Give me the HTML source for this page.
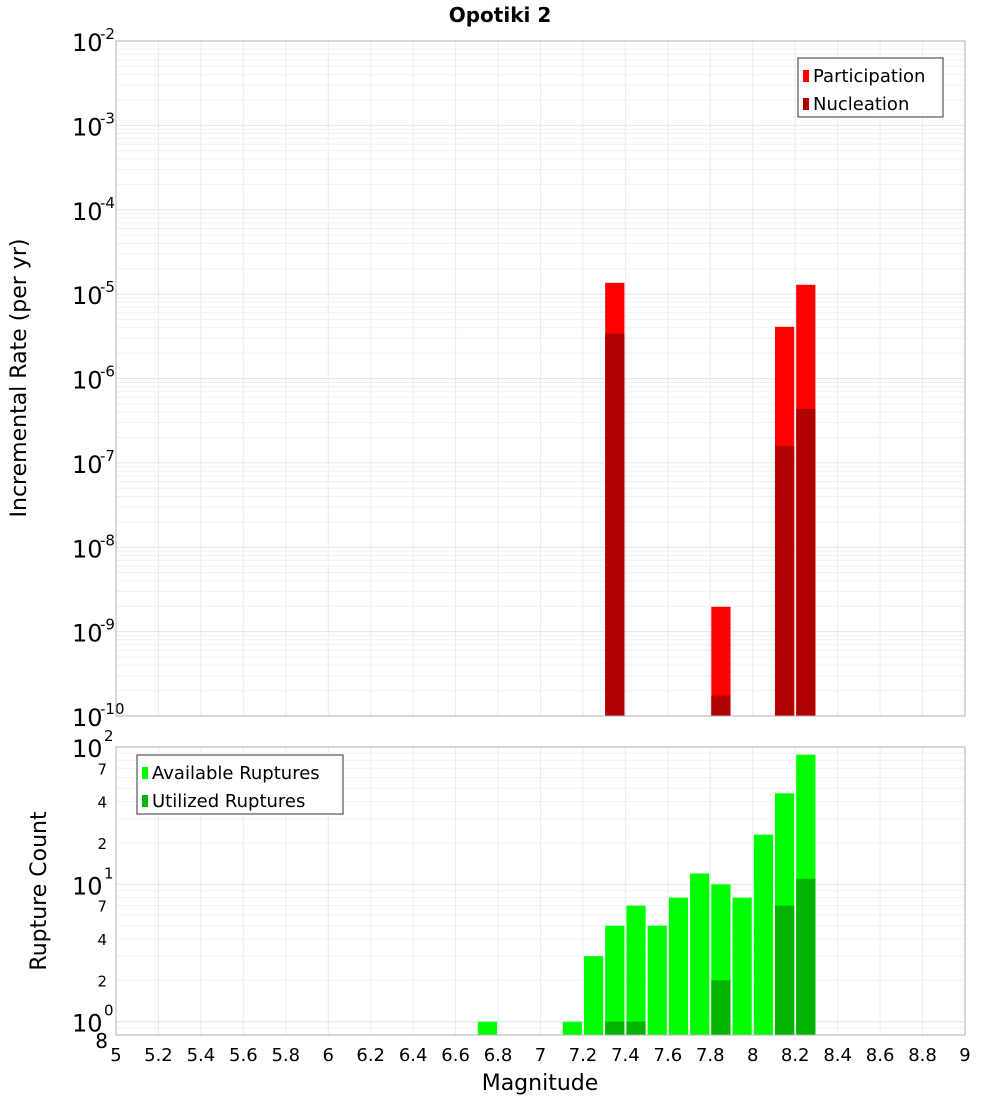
<!DOCTYPE html>
<html><head><meta charset="utf-8"><style>
body{margin:0;background:#fff;font-family:"Liberation Sans","DejaVu Sans",sans-serif}
svg text{font-family:"DejaVu Sans","Liberation Sans",sans-serif}
</style></head><body>
<svg id="c" width="1000" height="1100" xmlns="http://www.w3.org/2000/svg">
<text x="500" y="22" text-anchor="middle" font-size="20" font-weight="bold">Opotiki 2</text>
<text transform="translate(26,378) rotate(-90)" text-anchor="middle" font-size="22">Incremental Rate (per yr)</text>
<text transform="translate(46,891) rotate(-90)" text-anchor="middle" font-size="22">Rupture Count</text>
<text x="540" y="1090" text-anchor="middle" font-size="22">Magnitude</text>
</svg>
<script>
const topMags=[7.35,7.85,8.15,8.25];
const participation=[1.36e-5,1.97e-9,4.1e-6,1.29e-5];
const nucleation=[3.4e-6,1.74e-10,1.58e-7,4.37e-7];
const botMags=[6.75,7.15,7.25,7.35,7.45,7.55,7.65,7.75,7.85,7.95,8.05,8.15,8.25];
const available=[1,1,3,5,7,5,8,12,10,8,23,46,88];
const utilMags=[7.35,7.45,7.85,8.15,8.25];
const utilized=[1,1,2,7,11];
const xTicks=["5","5.2","5.4","5.6","5.8","6","6.2","6.4","6.6","6.8","7","7.2","7.4","7.6","7.8","8","8.2","8.4","8.6","8.8","9"];
const topExps=[-2,-3,-4,-5,-6,-7,-8,-9,-10];

const svg=document.getElementById('c');
const NS='http://www.w3.org/2000/svg';
function mk(tag,a,parent){const e=document.createElementNS(NS,tag);for(const k in a)e.setAttribute(k,a[k]);(parent||svg).appendChild(e);return e;}
const X0=116,X1=965;
const x=m=>X0+(m-5)/4*(X1-X0);
const TY0=41,TY1=716;
const yTop=v=>TY0+(-2-Math.log10(v))/8*(TY1-TY0);
const BY0=747,BY1=1035,BMIN=Math.log10(0.8);
const yBot=v=>BY0+(2-Math.log10(v))/(2-BMIN)*(BY1-BY0);

// grids
for(let i=0;i<xTicks.length;i++){const xv=x(5+i*0.2);
 let g=mk('line',{x1:xv,x2:xv,y1:TY0,y2:TY1,stroke:'#ebebeb'});
 
 g=mk('line',{x1:xv,x2:xv,y1:BY0,y2:BY1,stroke:'#ebebeb'});
 
 const t=mk('text',{x:xv,y:1061,'text-anchor':'middle','font-size':18});t.textContent=xTicks[i];
 
}
for(let e=-10;e<-2;e++)for(let k=1;k<10;k++){const yv=yTop(k*Math.pow(10,e));
 const g=mk('line',{x1:X0,x2:X1,y1:yv,y2:yv,stroke:k==1?'#e4e4e4':'#f0f0f0'});
 }
for(let e=-1;e<2;e++)for(let k=1;k<10;k++){const v=k*Math.pow(10,e);if(v<0.8)continue;const yv=yBot(v);
 const g=mk('line',{x1:X0,x2:X1,y1:yv,y2:yv,stroke:k==1?'#e4e4e4':'#f0f0f0'});
 }
// top labels
topExps.forEach(e=>{const yv=yTop(Math.pow(10,e));
 const t=mk('text',{x:72,y:yv+10,'font-size':24});t.textContent='10';
 
 const s=mk('text',{x:100,y:yv-2,'font-size':15});s.textContent=String(e);
 });
// bottom labels
[[100,'10','2'],[10,'10','1'],[1,'10','0']].forEach(([v,b,p])=>{const yv=yBot(v);
 const t=mk('text',{x:72,y:yv+10,'font-size':24});t.textContent=b;
 
 const s=mk('text',{x:104,y:yv-6,'font-size':15});s.textContent=p;
 });
[2,4,7,20,40,70,0.8].forEach(v=>{const yv=yBot(v);const lab=v==0.8?'8':String(v).charAt(0);
 const t=mk('text',{x:v==0.8?108:107,y:yv+(v==0.8?13:6),'font-size':v==0.8?20:15,'text-anchor':'end'});t.textContent=lab;
 });
// bars
const bw=x(5.1)-x(5)-2;
topMags.forEach((m,i)=>{
 let r=mk('rect',{x:x(m)-bw/2,width:bw,y:yTop(participation[i]),height:TY1-yTop(participation[i]),fill:'#ff0000'});
 
 r=mk('rect',{x:x(m)-bw/2,width:bw,y:yTop(nucleation[i]),height:TY1-yTop(nucleation[i]),fill:'#b00000'});
 });
botMags.forEach((m,i)=>{
 const r=mk('rect',{x:x(m)-bw/2,width:bw,y:yBot(available[i]),height:BY1-yBot(available[i]),fill:'#00ff00'});
 });
utilMags.forEach((m,i)=>{
 const r=mk('rect',{x:x(m)-bw/2,width:bw,y:yBot(utilized[i]),height:BY1-yBot(utilized[i]),fill:'#00b400'});
 });
// frames
let f=mk('rect',{x:X0,y:TY0,width:X1-X0,height:TY1-TY0,fill:'none',stroke:'#b0b0b0'});

f=mk('rect',{x:X0,y:BY0,width:X1-X0,height:BY1-BY0,fill:'none',stroke:'#b0b0b0'});

// legends
function legend(lx,ly,w,items,name){const g=mk('g',{});
 mk('rect',{x:lx,y:ly,width:w,height:59,fill:'#fff',stroke:'#333'},g);
 items.forEach(([c,l],i)=>{mk('rect',{x:lx+5,y:ly+12+i*28,width:6,height:12,fill:c},g);
 const t=mk('text',{x:lx+15,y:ly+24+i*28,'font-size':18},g);t.textContent=l;
 });}
legend(798,58,145,[['#ff0000','Participation'],['#b00000','Nucleation']],'top-legend');
legend(137,755,206,[['#00ff00','Available Ruptures'],['#00b400','Utilized Ruptures']],'bottom-legend');
</script>
</body></html>
